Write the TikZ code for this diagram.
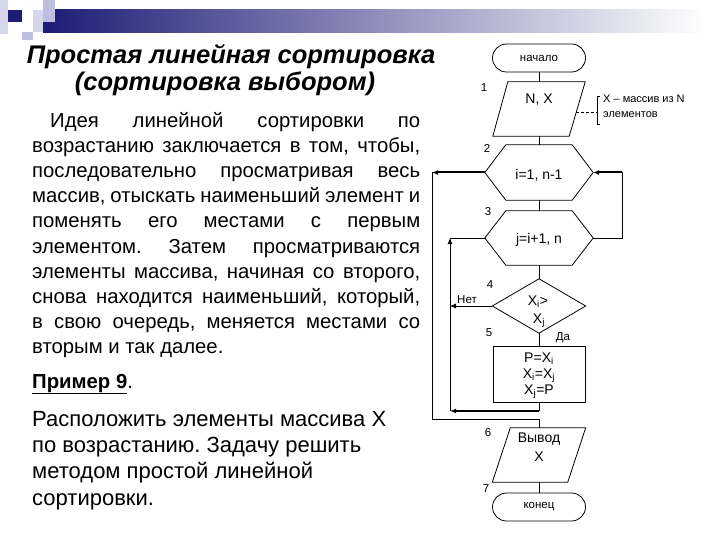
\documentclass[tikz,border=0pt]{standalone}
\usepackage{fontspec}
\setmainfont{Liberation Sans}
\usetikzlibrary{arrows.meta,calc}
\definecolor{navy}{RGB}{28,28,118}
\definecolor{barmid}{RGB}{185,185,208}
\definecolor{lav}{RGB}{190,190,225}
\definecolor{lavl}{RGB}{215,215,236}
\frenchspacing
\begin{document}
\begin{tikzpicture}[x=1pt,y=-1pt,
  line/.style={draw=black,line width=0.8pt},
  thickline/.style={draw=black,line width=2pt},
  arr/.style={line,-{Latex[length=6pt,width=5pt]}},
  thickarr/.style={thickline,-{Latex[length=6pt,width=5pt]}},
  box/.style={shape=rectangle,inner sep=0pt},
  term/.style={shape=rectangle,draw,line width=0.8pt,rounded corners=14pt,minimum width=93pt,minimum height=28pt,font=\fontsize{11.5}{13}\selectfont},
  ftext/.style={inner sep=0pt,font=\fontsize{14}{16}\selectfont},
  numlab/.style={inner sep=0pt,font=\fontsize{11.5}{13}\selectfont},
  bodyline/.style={inner sep=0pt,anchor=base west,font=\fontsize{20.3}{24}\selectfont\frenchspacing},
  taskline/.style={inner sep=0pt,anchor=base west,font=\fontsize{22}{26}\selectfont\frenchspacing},
  titletext/.style={inner sep=0pt,font=\fontsize{25.5}{30}\selectfont\bfseries\itshape}]
\useasboundingbox (0,0) rectangle (720,540);
\fill[white] (0,0) rectangle (720,540);
% header decoration
\shade[left color=navy,middle color=barmid,right color=white] (43,10) rectangle (705,33);
\fill[lavl] (0,0) rectangle (8,34);
\fill[lavl] (33,10) rectangle (43,32);
\fill[navy] (8,10) rectangle (22,22);
\fill[lav] (43,0) rectangle (55,22);
\fill[lav] (22,32) rectangle (33,40);
% title
\node[titletext] (t1) at (231,57) {Простая линейная сортировка};
\node[titletext] (t2) at (225,84) {(сортировка выбором)};
% body
\node[bodyline] (b1) at (50,128) {\makebox[370pt][s]{Идея линейной сортировки по}};
\node[bodyline] (b2) at (32,153) {\makebox[388pt][s]{возрастанию заключается в том, чтобы,}};
\node[bodyline] (b3) at (32,178) {\makebox[388pt][s]{последовательно просматривая весь}};
\node[bodyline] (b4) at (32,203) {\makebox[388pt][s]{массив, отыскать наименьший элемент и}};
\node[bodyline] (b5) at (32,228) {\makebox[388pt][s]{поменять его местами с первым}};
\node[bodyline] (b6) at (32,253) {\makebox[388pt][s]{элементом. Затем просматриваются}};
\node[bodyline] (b7) at (32,278) {\makebox[388pt][s]{элементы массива, начиная со второго,}};
\node[bodyline] (b8) at (32,303) {\makebox[388pt][s]{снова находится наименьший, который,}};
\node[bodyline] (b9) at (32,328) {\makebox[388pt][s]{в свою очередь, меняется местами со}};
\node[bodyline] (b10) at (32,353) {вторым и так далее.};
\node[bodyline] (ex) at (32,388) {\textbf{\underline{Пример 9}}.};
\node[taskline] (k1) at (32,426) {Расположить элементы массива X};
\node[taskline] (k2) at (32,452) {по возрастанию. Задачу решить};
\node[taskline] (k3) at (32,478) {методом простой линейной};
\node[taskline] (k4) at (32,505) {сортировки.};
% flowchart
\node[term] (start) at (539,58) {начало};
\node[box,minimum width=92pt,minimum height=54pt] (io1) at (539,109) {};
\draw[line] ($(io1.north west)+(15,0)$) -- (io1.north east) -- ($(io1.south east)+(-16,0)$) -- (io1.south west) -- cycle;
\node[ftext] (io1t) at (539,100) {N, X};
\node[box,minimum width=108pt,minimum height=55pt] (h2) at (539,172.5) {};
\draw[line] (h2.west) -- ($(h2.north west)+(21,0)$) -- ($(h2.north east)+(-21,0)$) -- (h2.east) -- ($(h2.south east)+(-21,0)$) -- ($(h2.south west)+(21,0)$) -- cycle;
\node[ftext] (h2t) at (539,175) {i=1, n-1};
\node[box,minimum width=108pt,minimum height=54pt] (h3) at (539,238) {};
\draw[line] (h3.west) -- ($(h3.north west)+(21,0)$) -- ($(h3.north east)+(-21,0)$) -- (h3.east) -- ($(h3.south east)+(-21,0)$) -- ($(h3.south west)+(21,0)$) -- cycle;
\node[ftext] (h3t) at (539,240) {j=i+1, n};
\node[box,minimum width=93pt,minimum height=54pt] (d) at (539,306) {};
\draw[line] (d.north) -- (d.east) -- (d.south) -- (d.west) -- cycle;
\node[ftext] (dt1) at (538,302) {X$_\mathrm{i}$>};
\node[ftext] (dt2) at (539,321) {X$_\mathrm{j}$};
\node[box,draw,line width=0.8pt,minimum width=92pt,minimum height=56pt] (r5) at (539,374) {};
\node[ftext] (r5a) at (539,359) {P=X$_\mathrm{i}$};
\node[ftext] (r5b) at (539,376) {X$_\mathrm{i}$=X$_\mathrm{j}$};
\node[ftext] (r5c) at (539,392) {X$_\mathrm{j}$=P};
\node[box,minimum width=93pt,minimum height=54pt] (io6) at (539,455) {};
\draw[line] ($(io6.north west)+(18,0)$) -- (io6.north east) -- ($(io6.south east)+(-18,0)$) -- (io6.south west) -- cycle;
\node[ftext] (io6a) at (539,439) {Вывод};
\node[ftext] (io6b) at (539,457) {X};
\node[term] (stop) at (539,507) {конец};
% numbers
\node[numlab] at (484,88) {1};
\node[numlab] at (487,148) {2};
\node[numlab] at (488,212) {3};
\node[numlab] at (490,285) {4};
\node[numlab] at (489,333) {5};
\node[numlab] at (488,433) {6};
\node[numlab] at (486,489) {7};
\node[numlab] (net) at (467,300) {Нет};
\node[numlab] (da) at (563,338) {Да};
% annotation
\coordinate (an1) at (576,112);
\coordinate (an2) at (597,112);
\draw[line,dash pattern=on 3pt off 2pt] (an1) -- (an2);
\draw[line] (600,96) -- (597,96) -- (597,124) -- (600,124);
\node[numlab,anchor=west,font=\fontsize{11}{13}\selectfont] (ann1) at (603,99) {X – массив из N};
\node[numlab,anchor=west,font=\fontsize{11}{13}\selectfont] (ann2) at (603,115) {элементов};
% connectors
\draw[line] (start.south) -- (io1.north);
\draw[line] (io1.south) -- (h2.north);
\draw[line] (h2.south) -- (h3.north);
\draw[line] (h3.south) -- (d.north);
\draw[line] (d.south) -- (r5.north);
\draw[line] (io6.south) -- (stop.north);
\coordinate (c1) at (450,411);
\coordinate (c2) at (450,238);
\draw[line] (r5.south) -- (r5.south |- c1);
\draw[thickarr] (r5.south |- c1) -- (c1);
\draw[arr] (c1) -- (c2);
\draw[line] (c2) -- (h3.west);
\draw[arr] (d.west) -- (d.west -| c1);
\coordinate (c3) at (622,238);
\coordinate (c4) at (c3 |- h2.east);
\draw[line] (h3.east) -- (c3) -- (c4);
\draw[thickarr] (c4) -- (h2.east);
\coordinate (c5) at (432,172.5);
\coordinate (c6) at (432,419);
\coordinate (c7) at (io6.north |- c6);
\draw[thickarr] (h2.west) -- (c5);
\draw[line] (c5) -- (c6) -- (c7) -- (io6.north);
\end{tikzpicture}
\end{document}
